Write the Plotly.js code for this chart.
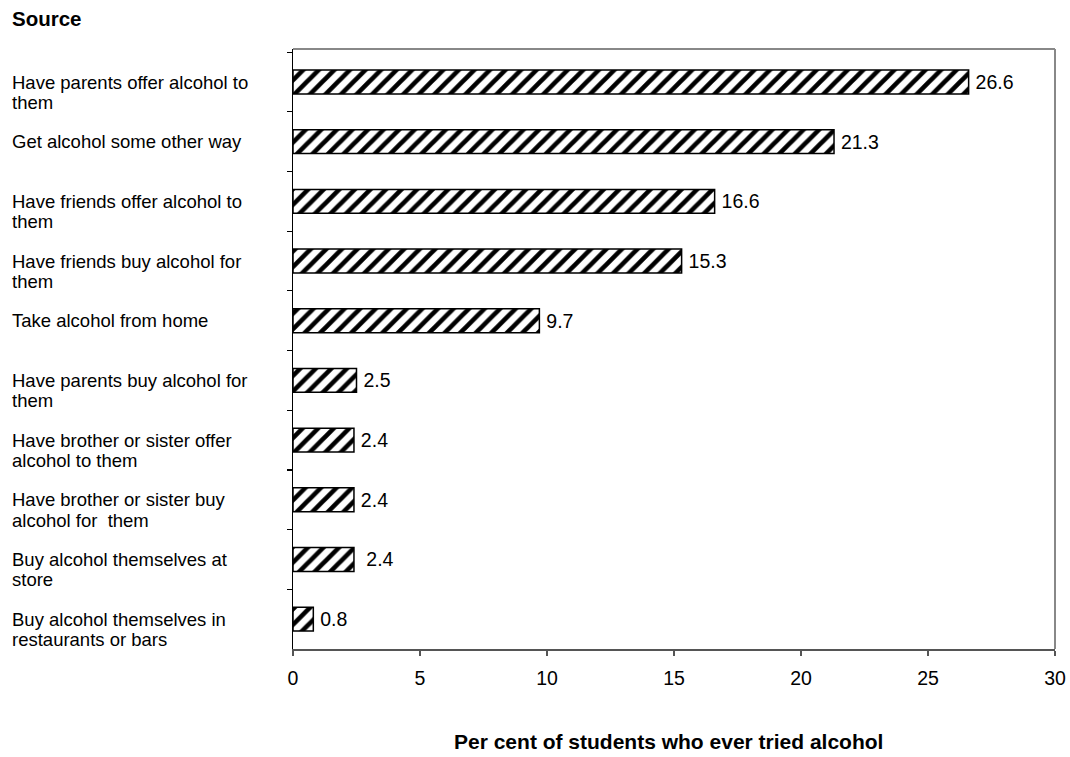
<!DOCTYPE html>
<html>
<head>
<meta charset="utf-8">
<script src="https://cdn.plot.ly/plotly-3.0.1.min.js"></script>
<style>html,body{margin:0;padding:0;background:#fff;}#chart{width:1070px;height:757px;}</style>
</head>
<body>
<div id="chart"></div>
<script>
// Data (top to bottom)
const categories = [
  "Have parents offer alcohol to<br>them",
  "Get alcohol some other way",
  "Have friends offer alcohol to<br>them",
  "Have friends buy alcohol for<br>them",
  "Take alcohol from home",
  "Have parents buy alcohol for<br>them",
  "Have brother or sister offer<br>alcohol to them",
  "Have brother or sister buy<br>alcohol for  them",
  "Buy alcohol themselves at<br>store",
  "Buy alcohol themselves in<br>restaurants or bars"
];
const values = [26.6, 21.3, 16.6, 15.3, 9.7, 2.5, 2.4, 2.4, 2.4, 0.8];
const valueLabels = ["26.6", "21.3", "16.6", "15.3", "9.7", "2.5", "2.4", "2.4", "\u00a02.4", "0.8"];
const xTicks = [0, 5, 10, 15, 20, 25, 30];
const yTitle = "Source";
const xTitle = "Per cent of students who ever tried alcohol";

const FONT = "Liberation Sans, Arial, sans-serif";
const plotL = 293, plotR = 1055, plotT = 49, plotB = 649;
const plotW = plotR - plotL, plotH = plotB - plotT;

const trace = {
  type: "bar",
  orientation: "h",
  y: categories,
  x: values,
  text: valueLabels,
  texttemplate: "\u2009%{text}",
  textposition: "outside",
  cliponaxis: false,
  textfont: {family: FONT, size: 19.5, color: "#000"},
  marker: {
    color: "white",
    line: {color: "#000", width: 1.5},
    pattern: {shape: "/", size: 11, solidity: 0.42, fgcolor: "#000", bgcolor: "#fff"}
  },
  hoverinfo: "x+y"
};

const annotations = [];
categories.forEach(function (c) {
  const lines = c.split("<br>");
  lines.forEach(function (ln, i) {
    annotations.push({
      xref: "paper", yref: "y",
      x: (10 - plotL) / plotW, y: c,
      xanchor: "left", yanchor: "middle", align: "left",
      yshift: -20.5 * i,
      text: ln, showarrow: false,
      font: {family: FONT, size: 18.5, color: "#000"}
    });
  });
});
annotations.push({
  xref: "paper", yref: "paper",
  x: (10 - plotL) / plotW, y: 1 + (plotT - 19) / plotH,
  xanchor: "left", yanchor: "middle",
  text: "<b>" + yTitle + "</b>", showarrow: false,
  font: {family: FONT, size: 20.5, color: "#000"}
});
annotations.push({
  xref: "paper", yref: "paper",
  x: (668 - plotL) / plotW, y: -(741 - plotB) / plotH,
  xanchor: "center", yanchor: "middle",
  text: "<b>" + xTitle + "</b>", showarrow: false,
  font: {family: FONT, size: 21, color: "#000"}
});

const layout = {
  width: 1070, height: 757,
  margin: {l: plotL, r: 1070 - plotR, t: plotT, b: 757 - plotB, pad: 0},
  paper_bgcolor: "#fff", plot_bgcolor: "#fff",
  showlegend: false,
  bargap: 0.6,
  font: {family: FONT, color: "#000"},
  xaxis: {
    range: [0, 30],
    tickvals: xTicks,
    ticktext: xTicks.map(String),
    showgrid: false, zeroline: false,
    showline: true, linecolor: "#555", linewidth: 1.5,
    ticks: "outside", ticklen: 5, tickcolor: "#555", tickwidth: 1.5,
    ticklabelstandoff: 6,
    tickfont: {family: FONT, size: 19.5, color: "#000"},
    fixedrange: true
  },
  yaxis: {
    type: "category",
    autorange: "reversed",
    showticklabels: false,
    showgrid: false, zeroline: false,
    showline: true, linecolor: "#000", linewidth: 1.5,
    ticks: "outside", ticklen: 5, tickcolor: "#000", tickwidth: 1.2,
    tickson: "boundaries",
    fixedrange: true
  },
  shapes: [
    {type: "line", xref: "paper", yref: "paper", x0: 0, x1: 1, y0: 1, y1: 1, line: {color: "#888", width: 2}},
    {type: "line", xref: "paper", yref: "paper", x0: 1, x1: 1, y0: 0, y1: 1, line: {color: "#888", width: 2}}
  ],
  annotations: annotations
};

Plotly.newPlot("chart", [trace], layout, {displayModeBar: false, staticPlot: true});
</script>
</body>
</html>
